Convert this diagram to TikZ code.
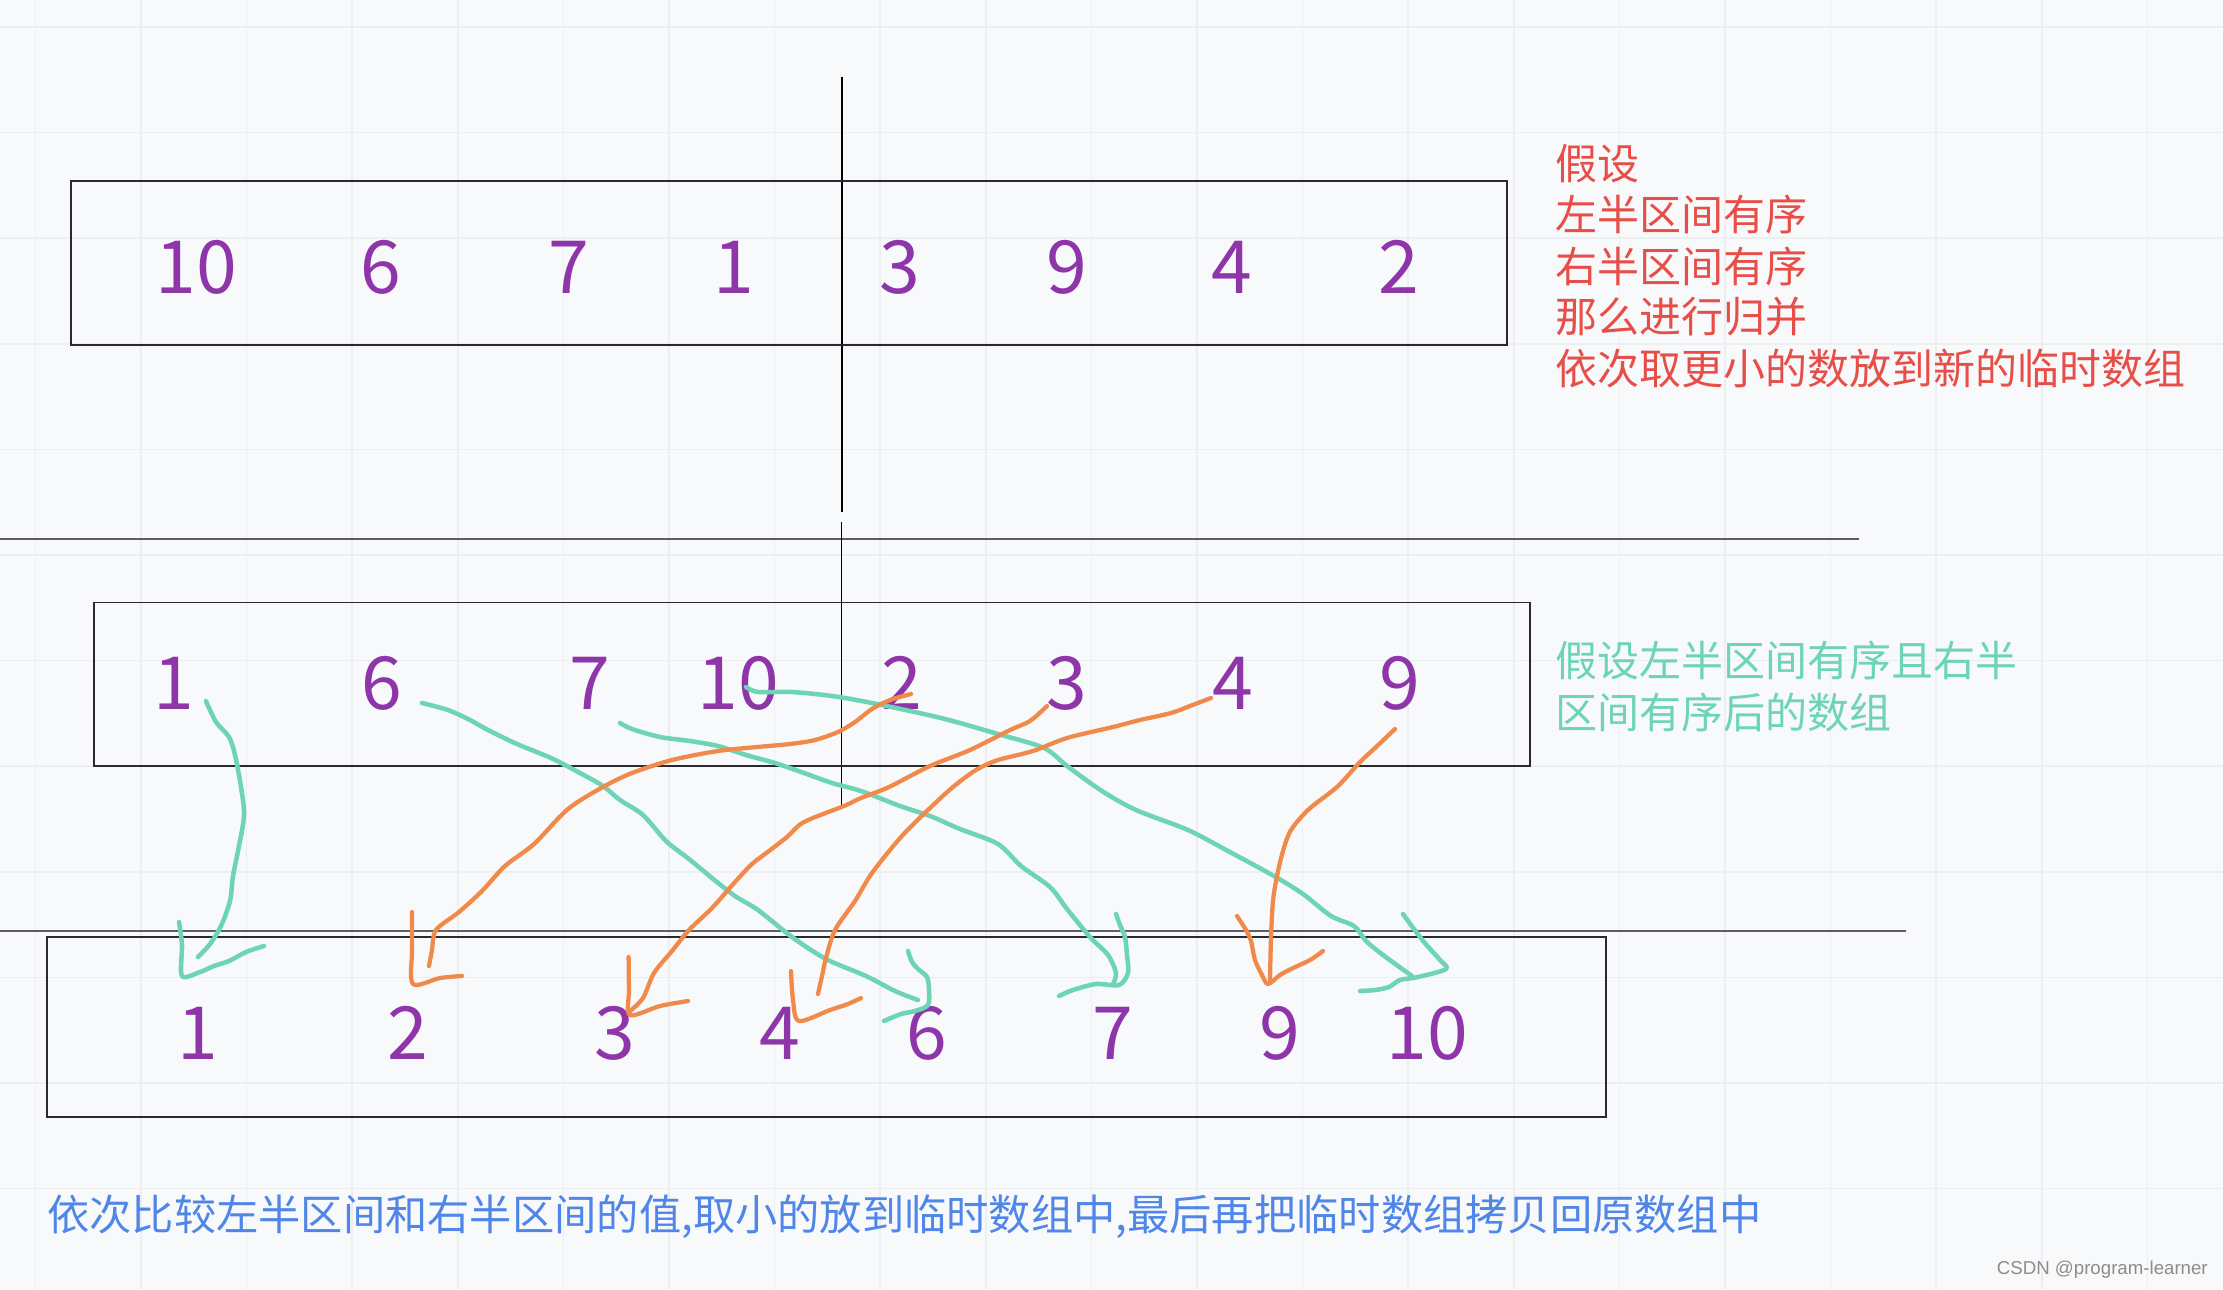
\documentclass[tikz,border=0pt]{standalone}
\usepackage{fontspec}
\setmainfont{Noto Sans CJK SC}
\newfontfamily\wmfont{Liberation Sans}
\definecolor{bgc}{HTML}{F8F9FB}
\definecolor{gridc}{HTML}{ECEEF1}
\definecolor{numc}{HTML}{8E35A9}
\definecolor{redc}{HTML}{E84E48}
\definecolor{greenc}{HTML}{6DD4B5}
\definecolor{orangec}{HTML}{F08A4B}
\definecolor{bluec}{HTML}{4F86E8}
\definecolor{sepc}{HTML}{5E5E62}
\definecolor{boxc}{HTML}{2A2A2E}
\definecolor{wmc}{HTML}{8C8C8C}
\begin{document}
\begin{tikzpicture}[x=0.75pt,y=-0.75pt,
  gridline/.style={draw=gridc,line width=1.3pt},
  arraybox/.style={draw=boxc,line width=1.2pt},
  sepline/.style={draw=sepc,line width=1.5pt},
  midline/.style={draw=black,line width=1.1pt},
  num/.style={text=numc,font=\fontsize{55}{55}\selectfont,inner sep=0pt,anchor=center},
  note/.style={font=\fontsize{31.5}{31.5}\selectfont,inner sep=0pt,anchor=west},
  gstroke/.style={draw=greenc,line width=3.4pt,line cap=round,line join=round},
  ostroke/.style={draw=orangec,line width=3.2pt,line cap=round,line join=round}]
\useasboundingbox (0,0) rectangle (2223,1289);
\fill[bgc] (0,0) rectangle (2223,1289);
% grid
\foreach \i in {0,...,20} \draw[gridline] ({35.4+105.6*\i},0) -- ({35.4+105.6*\i},1289);
\foreach \j in {0,...,11} \draw[gridline] (0,{27+105.6*\j}) -- (2223,{27+105.6*\j});
% separators and split lines
\coordinate (s1a) at (0,539); \coordinate (s1b) at (1859,539);
\coordinate (s2a) at (0,931); \coordinate (s2b) at (1906,931);
\draw[sepline] (s1a) -- (s1b);
\draw[sepline] (s2a) -- (s2b);
\coordinate (v1a) at (842,77); \coordinate (v1b) at (842,512);
\coordinate (v2a) at (841.5,522); \coordinate (v2b) at (841.5,807);
\draw[midline] (v1a) -- (v1b);
\draw[midline] (v2a) -- (v2b);
% boxes
\coordinate (boxtopnw) at (71,181); \coordinate (boxtopse) at (1507,345);
\coordinate (boxmidnw) at (94,602.5); \coordinate (boxmidse) at (1530,766);
\coordinate (boxbotnw) at (47,937); \coordinate (boxbotse) at (1606,1117);
\draw[arraybox] (boxtopnw) rectangle (boxtopse);
\draw[arraybox] (boxmidnw) rectangle (boxmidse);
\draw[arraybox] (boxbotnw) rectangle (boxbotse);
% top row
\node[num] (t1) at (196,267) {10};
\node[num] (t2) at (381,267) {6};
\node[num] (t3) at (569,267) {7};
\node[num] (t4) at (734,267) {1};
\node[num] (t5) at (900,267) {3};
\node[num] (t6) at (1067,267) {9};
\node[num] (t7) at (1232,267) {4};
\node[num] (t8) at (1399,267) {2};
% middle row
\node[num] (m1) at (174,683) {1};
\node[num] (m2) at (382,683) {6};
\node[num] (m3) at (590,683) {7};
\node[num] (m4) at (738,683) {10};
\node[num] (m5) at (902,683) {2};
\node[num] (m6) at (1067,683) {3};
\node[num] (m7) at (1233,683) {4};
\node[num] (m8) at (1400,683) {9};
% bottom row
\node[num] (b1) at (198,1033) {1};
\node[num] (b2) at (408,1033) {2};
\node[num] (b3) at (615,1033) {3};
\node[num] (b4) at (780,1033) {4};
\node[num] (b5) at (927,1033) {6};
\node[num] (b6) at (1113,1033) {7};
\node[num] (b7) at (1280,1033) {9};
\node[num] (b8) at (1427,1033) {10};
% red note
\node[note,text=redc] (r1) at (1555,163.5) {假设};
\node[note,text=redc] (r2) at (1555,214.5) {左半区间有序};
\node[note,text=redc] (r3) at (1555,266) {右半区间有序};
\node[note,text=redc] (r4) at (1555,317) {那么进行归并};
\node[note,text=redc] (r5) at (1555,368.5) {依次取更小的数放到新的临时数组};
% green note
\node[note,text=greenc] (g1) at (1555,660) {假设左半区间有序且右半};
\node[note,text=greenc] (g2) at (1555,712) {区间有序后的数组};
% blue note
\node[note,text=bluec,font=\fontsize{31.7}{31.7}\selectfont] (bl) at (47,1217) {依次比较左半区间和右半区间的值,取小的放到临时数组中,最后再把临时数组拷贝回原数组中};
% watermark
\node[inner sep=0pt,anchor=east,text=wmc,font=\wmfont\fontsize{14}{14}\selectfont] (wm) at (2208,1270) {CSDN @program-learner};
% green strokes
\draw[gstroke] plot[smooth] coordinates {(206,701) (216,722) (229,737) (235,755) (241,787) (244,816) (238,851) (233,876) (230,901) (221,926) (210,944) (198,957)};
\draw[gstroke] plot[smooth] coordinates {(179,922) (182,945) (182,976) (200,972) (214,966) (229,961) (246,952) (264,946)};
\draw[gstroke] plot[smooth] coordinates {(422,703) (448,710) (470,720) (488,730) (517,744) (551,758) (580,773) (603,786) (620,800) (643,815) (666,841) (689,859) (712,878) (735,896) (758,910) (792,937) (826,959) (866,976) (895,991) (918,1000)};
\draw[gstroke] plot[smooth] coordinates {(908,951) (912,962) (918,969) (927,977) (929,990) (928,1005) (915,1011) (901,1014) (884,1021)};
\draw[gstroke] plot[smooth] coordinates {(620,723) (632,729) (660,737) (690,741) (718,746) (746,755) (775,763) (804,773) (832,783) (861,791) (900,806) (930,816) (960,829) (998,844) (1021,866) (1050,887) (1067,909) (1090,937) (1108,955) (1116,973) (1113,984)};
\draw[gstroke] plot[smooth] coordinates {(1116,914) (1120,925) (1125,937) (1127,955) (1128,973) (1119,985) (1096,984) (1073,990) (1059,996)};
\draw[gstroke] plot[smooth] coordinates {(746,687) (758,692) (792,692) (832,696) (872,703) (941,718) (998,734) (1044,748) (1067,766) (1102,791) (1136,810) (1188,830) (1228,851) (1274,876) (1303,894) (1331,916) (1354,926) (1366,941) (1383,955) (1412,976)};
\draw[gstroke] plot[smooth] coordinates {(1403,914) (1411,925) (1424,942) (1440,960) (1446,969) (1418,977) (1400,980) (1389,987) (1375,990) (1360,991)};
% orange strokes
\draw[ostroke] plot[smooth] coordinates {(911,694) (890,700) (872,709) (855,722) (838,732) (815,740) (790,744) (757,747) (718,751) (672,760) (632,773) (603,787) (568,809) (534,844) (505,866) (482,891) (459,912) (436,930) (432,950) (429,966)};
\draw[ostroke] plot[smooth] coordinates {(412,912) (412,950) (413,984) (440,978) (462,976)};
\draw[ostroke] plot[smooth] coordinates {(1047,706) (1030,721) (1010,730) (970,750) (930,766) (889,787) (861,798) (844,806) (804,822) (787,837) (769,851) (752,864) (735,882) (712,908) (689,930) (672,951) (654,973) (643,998) (629,1012)};
\draw[ostroke] plot[smooth] coordinates {(628.6,957) (629,990) (630,1015) (660,1006) (688,1001)};
\draw[ostroke] plot[smooth] coordinates {(1211,698) (1190,706) (1171,713) (1140,720) (1113,727) (1067,738) (1033,751) (998,760) (976,770) (953,787) (930,808) (901,837) (872,873) (855,901) (835,930) (826,958) (822,976) (818,994)};
\draw[ostroke] plot[smooth] coordinates {(791,971) (793,1000) (799,1021) (830,1010) (848,1004) (861,998)};
\draw[ostroke] plot[smooth] coordinates {(1395,729) (1375,748) (1360,762) (1337,787) (1309,809) (1291,830) (1283,851) (1277,876) (1273,901) (1271,937) (1270,980)};
\draw[ostroke] plot[smooth] coordinates {(1237,916) (1246,930) (1251,941) (1255,960) (1262,975) (1268,984) (1280,975) (1291,969) (1310,960) (1323,951)};
\end{tikzpicture}
\end{document}
